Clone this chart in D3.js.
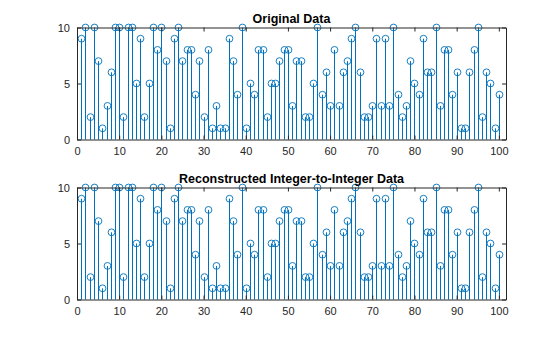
<!DOCTYPE html>
<html>
<head>
<meta charset="utf-8">
<script src="https://cdn.jsdelivr.net/npm/d3@7"></script>
<style>
  html, body { margin: 0; padding: 0; background: #fff; }
  svg { display: block; font-family: "Liberation Sans", Arial, Helvetica, sans-serif; }
</style>
</head>
<body>
<svg id="fig" width="560" height="337"></svg>
<script>
// Sample index 1..100
const indices = d3.range(1, 101);

// Original integer data
const originalData = [
  9, 10, 2, 10, 7, 1, 3, 6, 10, 10,
  2, 10, 10, 5, 9, 2, 5, 10, 8, 10,
  7, 1, 9, 10, 7, 8, 8, 4, 7, 2,
  8, 1, 3, 1, 1, 9, 7, 4, 10, 1,
  5, 4, 8, 8, 2, 5, 5, 7, 8, 8,
  3, 7, 7, 2, 2, 5, 10, 4, 6, 3,
  8, 3, 6, 7, 9, 10, 6, 2, 2, 3,
  9, 3, 9, 3, 10, 4, 2, 3, 7, 5,
  4, 9, 6, 6, 10, 3, 8, 8, 4, 6,
  1, 1, 6, 8, 10, 2, 6, 5, 1, 4
];

// Data after the integer-to-integer transform round trip
const reconstructedData = [
  9, 10, 2, 10, 7, 1, 3, 6, 10, 10,
  2, 10, 10, 5, 9, 2, 5, 10, 8, 10,
  7, 1, 9, 10, 7, 8, 8, 4, 7, 2,
  8, 1, 3, 1, 1, 9, 7, 4, 10, 1,
  5, 4, 8, 8, 2, 5, 5, 7, 8, 8,
  3, 7, 7, 2, 2, 5, 10, 4, 6, 3,
  8, 3, 6, 7, 9, 10, 6, 2, 2, 3,
  9, 3, 9, 3, 10, 4, 2, 3, 7, 5,
  4, 9, 6, 6, 10, 3, 8, 8, 4, 6,
  1, 1, 6, 8, 10, 2, 6, 5, 1, 4
];

const xTicks = [0, 10, 20, 30, 40, 50, 60, 70, 80, 90, 100];
const yTicks = [0, 5, 10];
const titles = ["Original Data", "Reconstructed Integer-to-Integer Data"];

const svg = d3.select("#fig");
const stemColor = "#0072BD";
const axisColor = "#262626";

const left = 77, right = 506;
const panels = [
  { top: 27.5, bottom: 139.5, data: originalData, title: titles[0] },
  { top: 187.5, bottom: 299.5, data: reconstructedData, title: titles[1] }
];

const x = d3.scaleLinear().domain([0, 101.7]).range([left, right]);

panels.forEach(p => {
  const y = d3.scaleLinear().domain([0, 10]).range([p.bottom, p.top]);
  const g = svg.append("g");

  // stems
  g.append("g").selectAll("line")
    .data(indices)
    .join("line")
    .attr("x1", (d) => Math.round(x(d)) + 0.5)
    .attr("x2", (d) => Math.round(x(d)) + 0.5)
    .attr("y1", y(0))
    .attr("y2", (d, i) => y(p.data[i]))
    .attr("stroke", stemColor)
    .attr("stroke-width", 1);

  // markers
  g.append("g").selectAll("circle")
    .data(indices)
    .join("circle")
    .attr("cx", (d) => Math.round(x(d)) + 0.5)
    .attr("cy", (d, i) => y(p.data[i]))
    .attr("r", 3.4)
    .attr("fill", "none")
    .attr("stroke", stemColor)
    .attr("stroke-width", 0.9);

  // axes with inward ticks
  const styleAxis = sel => {
    sel.selectAll("path.domain").attr("stroke", axisColor).attr("stroke-width", 1);
    sel.selectAll(".tick line").attr("stroke", axisColor).attr("stroke-width", 1);
    sel.selectAll("text").attr("fill", axisColor).attr("font-size", 11)
      .attr("font-family", "'Liberation Sans', Arial, Helvetica, sans-serif");
  };

  g.append("g").attr("transform", `translate(0,${p.bottom})`)
    .call(d3.axisBottom(x).tickValues(xTicks).tickSizeInner(-4).tickSizeOuter(0).tickPadding(8))
    .call(styleAxis);
  g.append("g").attr("transform", `translate(0,${p.top})`)
    .call(d3.axisTop(x).tickValues(xTicks).tickSizeInner(-4).tickSizeOuter(0).tickFormat(""))
    .call(styleAxis);
  g.append("g").attr("transform", `translate(${left},0)`)
    .call(d3.axisLeft(y).tickValues(yTicks).tickSizeInner(-4).tickSizeOuter(0).tickPadding(7))
    .call(styleAxis);
  g.append("g").attr("transform", `translate(${right},0)`)
    .call(d3.axisRight(y).tickValues(yTicks).tickSizeInner(-4).tickSizeOuter(0).tickFormat(""))
    .call(styleAxis);

  // title
  g.append("text")
    .attr("x", (left + right) / 2)
    .attr("y", p.top - 4.5)
    .attr("text-anchor", "middle")
    .attr("font-size", 12.5)
    .attr("font-weight", "bold")
    .attr("fill", "#000")
    .text(p.title);
});
</script>
</body>
</html>
